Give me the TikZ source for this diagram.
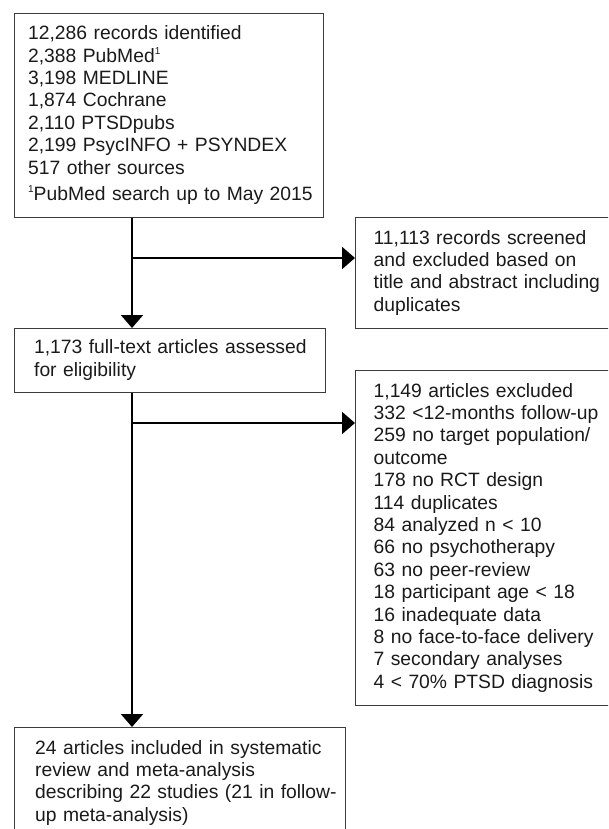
\documentclass[tikz,border=0pt]{standalone}
\usepackage{fontspec}
\setmainfont{Liberation Sans}
\usetikzlibrary{arrows.meta}
\definecolor{boxgray}{HTML}{3C3C3C}
\definecolor{ink}{HTML}{1A1A1A}
\newcommand{\supone}{\raisebox{0.75ex}{\fontsize{10}{10}\selectfont 1}}
\begin{document}
\begin{tikzpicture}[x=1pt,y=-1pt,
  box/.style={draw=boxgray, line width=1.3pt, anchor=north west, align=left,
    inner ysep=0pt, font=\fontsize{19.3}{22.4}\selectfont, text=ink},
  conn/.style={line width=2pt, -{Triangle[width=22pt,length=13pt]}}]
\useasboundingbox (0,0) rectangle (608,829);
\clip (0,0) rectangle (608,829);
\node[box, text width=282pt, inner xsep=13.5pt, minimum height=204pt] (rec) at (14,13)
  {\begin{tabular}{@{}l@{}}
   12,286 records identified\\
   2,388 PubMed\supone\\
   3,198 MEDLINE\\
   1,874 Cochrane\\
   2,110 PTSDpubs\\
   2,199 PsycINFO + PSYNDEX\\
   517 other sources\\[4pt]
   \supone PubMed search up to May 2015
   \end{tabular}};
\node[box, text width=240pt, inner xsep=18pt, minimum height=111pt] (scr) at (355,217)
  {\begin{tabular}{@{}l@{}}
   11,113 records screened\\
   and excluded based on\\
   title and abstract including\\
   duplicates
   \end{tabular}};
\node[box, text width=272pt, inner xsep=19.5pt, minimum height=64pt] (full) at (14,328)
  {\begin{tabular}{@{}l@{}}
   1,173 full-text articles assessed\\
   for eligibility
   \end{tabular}};
\node[box, text width=240pt, inner xsep=18pt, minimum height=335pt] (exc) at (355,370)
  {\begin{tabular}{@{}l@{}}
   1,149 articles excluded\\
   332 <12-months follow-up\\
   259 no target population/\\
   outcome\\
   178 no RCT design\\
   114 duplicates\\
   84 analyzed n < 10\\
   66 no psychotherapy\\
   63 no peer-review\\
   18 participant age < 18\\
   16 inadequate data\\
   8 no face-to-face delivery\\
   7 secondary analyses\\
   4 < 70\% PTSD diagnosis
   \end{tabular}};
\node[box, text width=290pt, inner xsep=20.5pt, minimum height=111pt] (inc) at (14,727)
  {\begin{tabular}{@{}l@{}}
   24 articles included in systematic\\
   review and meta-analysis\\
   describing 22 studies (21 in follow-\\
   up meta-analysis)
   \end{tabular}};
\coordinate (trunk) at (132,0);
\coordinate (b1) at (132,258);
\coordinate (b2) at (132,423);
\draw[conn] (rec.south -| trunk) -- (full.north -| trunk);
\draw[conn] (b1) -- (b1 -| scr.west);
\draw[conn] (full.south -| trunk) -- (inc.north -| trunk);
\draw[conn] (b2) -- (b2 -| exc.west);
\end{tikzpicture}
\end{document}
